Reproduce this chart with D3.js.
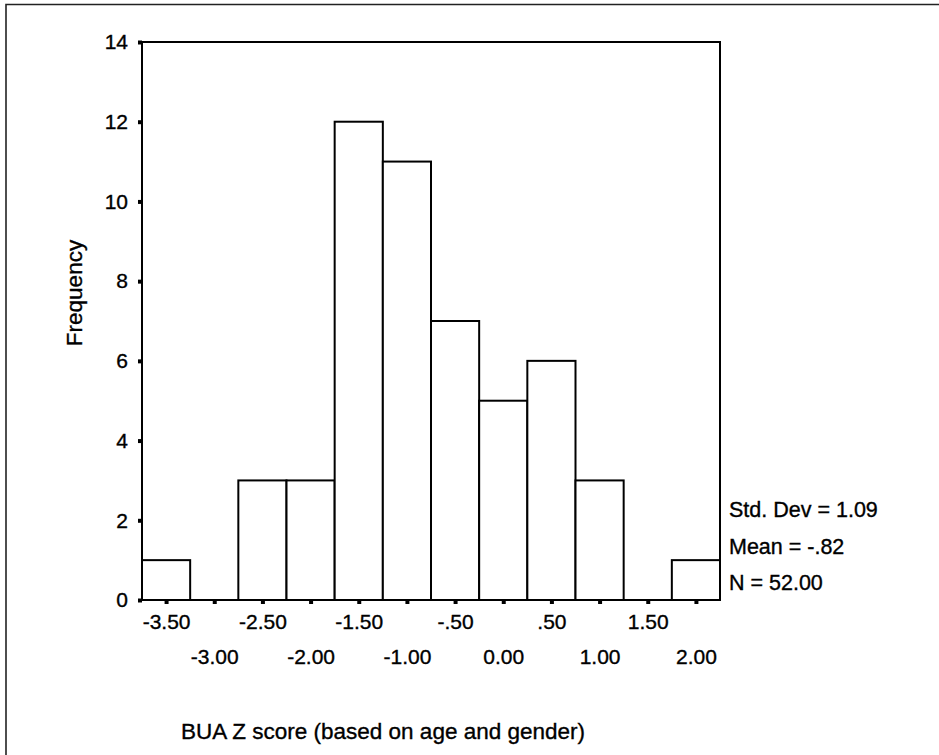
<!DOCTYPE html>
<html>
<head>
<meta charset="utf-8">
<script src="https://cdn.jsdelivr.net/npm/d3@7"></script>
<style>
  body { margin: 0; background: #fff; }
  text { font-family: "Liberation Sans", Arial, Helvetica, sans-serif; fill: #000; stroke: #000; stroke-width: 0.35px; }
</style>
</head>
<body>
<svg id="chart" width="939" height="755"></svg>
<script>
// Data
const binCenters = [-3.5, -3.0, -2.5, -2.0, -1.5, -1.0, -0.5, 0.0, 0.5, 1.0, 1.5, 2.0];
const counts     = [1, 0, 3, 3, 12, 11, 7, 5, 6, 3, 0, 1];
const xTickLabels = ["-3.50", "-3.00", "-2.50", "-2.00", "-1.50", "-1.00", "-.50", "0.00", ".50", "1.00", "1.50", "2.00"];
const yTicks = [0, 2, 4, 6, 8, 10, 12, 14];
const statsLines = ["Std. Dev = 1.09", "Mean = -.82", "N = 52.00"];
const binWidth = 0.5;
const xTitle = "BUA Z score (based on age and gender)";
const yTitle = "Frequency";

const svg = d3.select("#chart");

// outer frame (extends beyond right/bottom edges)
svg.append("path")
  .attr("d", "M6,760 L6,4.5 L945,4.5")
  .attr("fill", "none").attr("stroke", "#222").attr("stroke-width", 1.6);

const pLeft = 142, pRight = 720, pTop = 42, pBottom = 600;
const x = d3.scaleLinear().domain([-3.75, 2.25]).range([pLeft, pRight]);
const y = d3.scaleLinear().domain([0, 14]).range([pBottom, pTop]);

// bars
svg.append("g").selectAll("rect")
  .data(binCenters.map((c, i) => ({c, n: counts[i]})).filter(d => d.n > 0))
  .join("rect")
  .attr("x", d => x(d.c - binWidth / 2))
  .attr("y", d => y(d.n))
  .attr("width", d => x(d.c + binWidth / 2) - x(d.c - binWidth / 2))
  .attr("height", d => y(0) - y(d.n))
  .attr("fill", "#fff")
  .attr("stroke", "#000")
  .attr("stroke-width", 2);

// plot frame
svg.append("rect")
  .attr("x", pLeft).attr("y", pTop)
  .attr("width", pRight - pLeft).attr("height", pBottom - pTop)
  .attr("fill", "none").attr("stroke", "#000").attr("stroke-width", 2);

// y axis
const yAxis = svg.append("g")
  .attr("transform", `translate(${pLeft},0)`)
  .call(d3.axisLeft(y).tickValues(yTicks).tickFormat(d3.format("d")).tickSize(4).tickPadding(10));
yAxis.select(".domain").remove();
yAxis.selectAll(".tick line").attr("stroke", "#000").attr("stroke-width", 4);
yAxis.selectAll(".tick text").attr("font-size", 21).attr("fill", "#000")
  .attr("font-family", "Liberation Sans, Arial, sans-serif");

// x axis
const xAxis = svg.append("g")
  .attr("transform", `translate(0,${pBottom})`)
  .call(d3.axisBottom(x).tickValues(binCenters)
    .tickFormat((d, i) => xTickLabels[i]).tickSize(4).tickPadding(10));
xAxis.select(".domain").remove();
xAxis.selectAll(".tick line").attr("stroke", "#000").attr("stroke-width", 4);
xAxis.selectAll(".tick text")
  .attr("font-size", 21).attr("fill", "#000")
  .attr("font-family", "Liberation Sans, Arial, sans-serif")
  .attr("dy", null)
  .attr("y", (d, i) => i % 2 === 0 ? 29 : 64);

// stats text
svg.append("g").selectAll("text")
  .data(statsLines)
  .join("text")
  .attr("x", 729)
  .attr("y", (d, i) => 517 + i * 36.5)
  .attr("font-size", 21.5)
  .text(d => d);

// axis titles
svg.append("text")
  .attr("x", 181).attr("y", 739)
  .attr("font-size", 22.5)
  .text(xTitle);

svg.append("text")
  .attr("transform", "translate(82,293) rotate(-90)")
  .attr("text-anchor", "middle")
  .attr("font-size", 22.5)
  .text(yTitle);
</script>
</body>
</html>
